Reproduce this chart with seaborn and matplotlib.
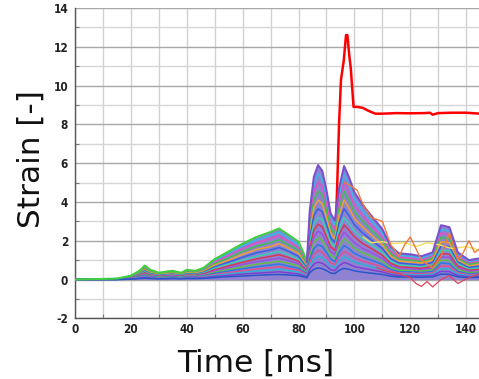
import matplotlib
matplotlib.use("Agg")
import matplotlib.pyplot as plt
import seaborn as sns
import numpy as np
import pandas as pd
from matplotlib.ticker import MultipleLocator

# ---------------- data ----------------
T = [0, 15, 20, 23, 25, 27, 30, 33, 35, 38, 40, 43, 46, 50, 55, 60, 65, 70, 73, 76,
     80, 82, 83, 84, 85.5, 87, 88.5, 90, 91.5, 93, 94.5, 96.3, 98, 100, 103, 106,
     110, 113, 116, 120, 124, 128, 131, 134, 137, 141, 145]

env = [0, 0.05, 0.2, 0.45, 0.72, 0.5, 0.35, 0.42, 0.45, 0.35, 0.5, 0.45, 0.6, 1.05,
       1.45, 1.85, 2.2, 2.45, 2.63, 2.35, 1.95, 1.3, 0.9, 3.5, 5.3, 5.9, 5.6, 4.6, 3.4,
       3.05, 4.7, 5.85, 5.3, 4.5, 3.85, 3.3, 2.6, 1.7, 1.35, 1.3, 1.2, 1.4, 2.8, 2.7,
       1.4, 1.0, 1.1]
c92 = [0, 0.05, 0.18, 0.42, 0.66, 0.46, 0.33, 0.39, 0.41, 0.33, 0.46, 0.42, 0.55, 0.98,
       1.36, 1.73, 2.05, 2.28, 2.44, 2.18, 1.8, 1.2, 0.85, 3.25, 4.9, 5.45, 5.2, 4.25,
       3.15, 2.8, 4.35, 5.45, 4.9, 4.15, 3.55, 3.05, 2.4, 1.58, 1.25, 1.2, 1.1, 1.3,
       2.6, 2.5, 1.3, 0.92, 1.02]
c85 = [0, 0.04, 0.15, 0.38, 0.6, 0.42, 0.3, 0.35, 0.38, 0.3, 0.42, 0.38, 0.5, 0.9,
       1.25, 1.6, 1.9, 2.1, 2.25, 2.0, 1.65, 1.1, 0.8, 3.0, 4.5, 5.0, 4.8, 3.9, 2.9,
       2.6, 4.0, 5.0, 4.5, 3.8, 3.3, 2.8, 2.2, 1.45, 1.15, 1.1, 1.0, 1.2, 2.4, 2.3,
       1.2, 0.85, 0.95]
c78 = [0, 0.03, 0.14, 0.34, 0.55, 0.39, 0.27, 0.33, 0.35, 0.28, 0.39, 0.35, 0.46, 0.82,
       1.12, 1.45, 1.72, 1.9, 2.05, 1.82, 1.5, 1.0, 0.72, 2.7, 4.1, 4.55, 4.35, 3.55,
       2.65, 2.35, 3.65, 4.55, 4.1, 3.5, 3.0, 2.55, 2.0, 1.32, 1.05, 1.0, 0.92, 1.1,
       2.18, 2.1, 1.1, 0.78, 0.88]
c70 = [0, 0.03, 0.12, 0.3, 0.5, 0.35, 0.25, 0.3, 0.32, 0.25, 0.35, 0.32, 0.42, 0.74,
       1.0, 1.3, 1.55, 1.7, 1.85, 1.65, 1.35, 0.9, 0.65, 2.4, 3.7, 4.1, 3.9, 3.2, 2.4,
       2.1, 3.3, 4.1, 3.7, 3.15, 2.7, 2.3, 1.8, 1.2, 0.95, 0.9, 0.85, 1.0, 1.95, 1.9,
       1.0, 0.7, 0.8]
c62 = [0, 0.02, 0.11, 0.28, 0.45, 0.31, 0.22, 0.26, 0.28, 0.22, 0.31, 0.28, 0.37, 0.66,
       0.9, 1.15, 1.38, 1.52, 1.65, 1.48, 1.2, 0.8, 0.58, 2.15, 3.3, 3.65, 3.5, 2.85,
       2.15, 1.9, 2.95, 3.65, 3.3, 2.82, 2.4, 2.05, 1.6, 1.08, 0.85, 0.8, 0.75, 0.88,
       1.72, 1.7, 0.9, 0.62, 0.7]
c55 = [0, 0.02, 0.1, 0.25, 0.4, 0.28, 0.2, 0.23, 0.25, 0.2, 0.28, 0.25, 0.33, 0.58,
       0.8, 1.0, 1.2, 1.35, 1.45, 1.3, 1.05, 0.7, 0.5, 1.9, 2.9, 3.2, 3.1, 2.5, 1.9,
       1.7, 2.6, 3.2, 2.9, 2.5, 2.1, 1.8, 1.4, 0.95, 0.75, 0.7, 0.65, 0.75, 1.5, 1.5,
       0.8, 0.55, 0.6]
c48 = [0, 0.02, 0.09, 0.22, 0.35, 0.24, 0.17, 0.2, 0.22, 0.17, 0.24, 0.22, 0.29, 0.51,
       0.7, 0.89, 1.06, 1.19, 1.28, 1.15, 0.94, 0.62, 0.44, 1.68, 2.55, 2.85, 2.72, 2.2,
       1.68, 1.5, 2.3, 2.82, 2.55, 2.2, 1.85, 1.6, 1.25, 0.83, 0.66, 0.62, 0.58, 0.68,
       1.32, 1.32, 0.7, 0.48, 0.53]
c42 = [0, 0.02, 0.08, 0.19, 0.3, 0.21, 0.15, 0.18, 0.19, 0.15, 0.21, 0.19, 0.25, 0.44,
       0.6, 0.78, 0.92, 1.03, 1.1, 1.0, 0.82, 0.55, 0.38, 1.45, 2.2, 2.5, 2.35, 1.9,
       1.45, 1.3, 2.0, 2.45, 2.2, 1.9, 1.6, 1.4, 1.1, 0.72, 0.57, 0.55, 0.5, 0.6, 1.15,
       1.15, 0.6, 0.42, 0.46]
c36 = [0, 0.01, 0.07, 0.16, 0.26, 0.18, 0.12, 0.15, 0.16, 0.12, 0.18, 0.16, 0.21, 0.38,
       0.52, 0.66, 0.79, 0.88, 0.95, 0.85, 0.7, 0.47, 0.33, 1.25, 1.9, 2.15, 2.02, 1.65,
       1.25, 1.1, 1.7, 2.1, 1.9, 1.62, 1.37, 1.2, 0.94, 0.62, 0.48, 0.47, 0.43, 0.51,
       1.0, 0.98, 0.51, 0.36, 0.4]
c30 = [0, 0.01, 0.06, 0.14, 0.22, 0.15, 0.1, 0.12, 0.14, 0.1, 0.15, 0.14, 0.18, 0.32,
       0.44, 0.55, 0.66, 0.74, 0.8, 0.7, 0.58, 0.4, 0.28, 1.05, 1.6, 1.8, 1.7, 1.4,
       1.05, 0.92, 1.4, 1.75, 1.6, 1.35, 1.15, 1.0, 0.78, 0.52, 0.4, 0.4, 0.36, 0.42,
       0.85, 0.82, 0.42, 0.3, 0.33]
c25 = [0, 0.01, 0.05, 0.11, 0.18, 0.12, 0.08, 0.1, 0.11, 0.08, 0.12, 0.11, 0.15, 0.26,
       0.36, 0.46, 0.55, 0.61, 0.66, 0.58, 0.48, 0.33, 0.23, 0.88, 1.32, 1.5, 1.41,
       1.16, 0.86, 0.77, 1.17, 1.46, 1.33, 1.12, 0.96, 0.83, 0.65, 0.43, 0.33, 0.33,
       0.3, 0.35, 0.7, 0.68, 0.35, 0.25, 0.27]
c20 = [0, 0.01, 0.04, 0.09, 0.15, 0.1, 0.07, 0.08, 0.09, 0.07, 0.1, 0.09, 0.12, 0.21,
       0.29, 0.37, 0.44, 0.49, 0.53, 0.47, 0.39, 0.26, 0.18, 0.7, 1.05, 1.2, 1.12, 0.92,
       0.68, 0.62, 0.95, 1.17, 1.06, 0.9, 0.77, 0.66, 0.52, 0.34, 0.27, 0.26, 0.24,
       0.28, 0.56, 0.54, 0.28, 0.2, 0.22]
c15 = [0, 0.01, 0.03, 0.07, 0.11, 0.08, 0.05, 0.06, 0.07, 0.05, 0.08, 0.07, 0.09, 0.16,
       0.22, 0.28, 0.33, 0.37, 0.4, 0.35, 0.29, 0.2, 0.14, 0.52, 0.79, 0.9, 0.84, 0.69,
       0.51, 0.46, 0.71, 0.88, 0.8, 0.67, 0.58, 0.5, 0.39, 0.26, 0.2, 0.2, 0.18, 0.21,
       0.42, 0.41, 0.21, 0.15, 0.16]
c10 = [0, 0, 0.02, 0.05, 0.07, 0.05, 0.04, 0.04, 0.05, 0.04, 0.05, 0.05, 0.06, 0.1,
       0.15, 0.18, 0.22, 0.25, 0.26, 0.24, 0.2, 0.13, 0.09, 0.35, 0.53, 0.6, 0.56, 0.46,
       0.34, 0.31, 0.47, 0.58, 0.53, 0.45, 0.38, 0.33, 0.26, 0.17, 0.13, 0.13, 0.12,
       0.14, 0.28, 0.27, 0.14, 0.1, 0.11]

# outlier traces on the right
orange_t = [96.3, 98, 99.5, 101, 103, 106, 108, 110, 113, 116, 118, 120, 122, 124,
            128, 131, 134, 137, 139, 141, 143, 145]
orange_y = [5.0, 4.9, 4.75, 4.6, 3.9, 3.2, 3.1, 3.0, 1.8, 1.2, 1.8, 2.2, 1.6, 1.0,
            0.6, 1.2, 2.4, 1.0, 1.4, 2.0, 1.4, 1.6]
yellow_t = [103, 106, 110, 114, 118, 122, 126, 130, 135, 140, 145]
yellow_y = [2.2, 1.9, 1.95, 1.85, 1.9, 1.7, 1.9, 1.8, 1.6, 1.7, 1.5]
redlow_t = [108, 112, 116, 120, 122, 124, 126, 128, 131, 134, 137, 141, 145]
redlow_y = [0.6, 0.4, 0.3, 0.1, -0.2, -0.35, -0.1, -0.38, 0.0, 0.2, -0.2, 0.1, 0.3]

# red (highlighted) curve
red_t = [93.2, 93.9, 94.5, 95.2, 96.2, 97.0, 97.5, 98.2, 98.7, 99.7, 101, 103, 105,
         107.5, 110, 115, 120, 125, 127, 128, 130, 135, 140, 145]
red_y = [2.0, 5.1, 8.0, 10.3, 11.3, 12.6, 12.6, 11.5, 10.9, 8.9, 8.9, 8.85, 8.7,
         8.55, 8.55, 8.58, 8.57, 8.58, 8.6, 8.5, 8.58, 8.6, 8.6, 8.55]

xticks = [0, 20, 40, 60, 80, 100, 120, 140]
yticks = [-2, 0, 2, 4, 6, 8, 10, 12, 14]

# ---------------- drawing ----------------
sns.set_theme(style="white")
plt.rcParams['font.family'] = ['DejaVu Sans']
plt.rcParams['axes.unicode_minus'] = False

fig = plt.figure(figsize=(4.79, 3.79), dpi=100)
ax = fig.add_axes([0.1566, 0.160, 0.8434, 0.819])

# red curve underneath the cloud
sns.lineplot(x=red_t, y=red_y, ax=ax, color="#ff0000", lw=1.8, sort=False,
             estimator=None, zorder=2)

# base fill of the cloud of traces
ax.fill_between(T, 0, env, color="#8f82d2", lw=0, zorder=3)

curves = [c92, c85, c78, c70, c62, c55, c48, c42, c36, c30, c25, c20, c15, c10]
colors = ["#35b9e6", "#e052c2", "#3fbf4f", "#f0a030", "#3563e0", "#38d0b0",
          "#d8384f", "#9a50e0", "#60c040", "#2a7ae0", "#e05090", "#30b0d0",
          "#7f3fd0", "#2a56c8"]
for c, col in zip(curves, colors):
    sns.lineplot(x=T, y=c, ax=ax, color=col, lw=1.1, sort=False, estimator=None,
                 zorder=4)

df = pd.DataFrame({"t": T, "v": env})
sns.lineplot(data=df[df.t <= 83], x="t", y="v", ax=ax, color="#3fcf3f", lw=1.5,
             estimator=None, sort=False, zorder=5)
sns.lineplot(data=df[df.t >= 83], x="t", y="v", ax=ax, color="#7a50cc", lw=1.5,
             estimator=None, sort=False, zorder=5)

sns.lineplot(x=orange_t, y=orange_y, ax=ax, color="#f07a3a", lw=1.0, sort=False,
             estimator=None, zorder=5)
sns.lineplot(x=yellow_t, y=yellow_y, ax=ax, color="#f0e060", lw=1.0, sort=False,
             estimator=None, zorder=4)
sns.lineplot(x=redlow_t, y=redlow_y, ax=ax, color="#e0405a", lw=0.9, sort=False,
             estimator=None, zorder=4)

# axes styling
ax.set_xlim(0, 144.6)
ax.set_ylim(-2, 14)
ax.set_xticks(xticks)
ax.set_yticks(yticks)
ax.xaxis.set_minor_locator(MultipleLocator(10))
ax.yaxis.set_minor_locator(MultipleLocator(1))
ax.grid(which="major", axis="y", color="#a8a8a8", lw=1.0, zorder=0)
ax.grid(which="minor", axis="y", color="#d6d6d6", lw=1.0, zorder=0)
ax.grid(which="both", axis="x", color="#d2d2d2", lw=1.0, zorder=0)
ax.set_axisbelow(True)
for s in ["top", "right"]:
    ax.spines[s].set_visible(False)
for s in ["left", "bottom"]:
    ax.spines[s].set_color("#555555")
    ax.spines[s].set_linewidth(1.0)

ax.tick_params(axis="y", which="major", direction="out", length=4, width=0.8,
               color="#555555", pad=1)
ax.tick_params(axis="y", which="minor", direction="in", length=3, width=0.8,
               color="#777777", left=True)
ax.tick_params(axis="x", which="major", direction="in", length=4, width=0.8,
               color="#555555", pad=3)
ax.tick_params(axis="x", which="minor", direction="in", length=3, width=0.8,
               color="#777777", bottom=True)
for lab in ax.get_xticklabels() + ax.get_yticklabels():
    lab.set_fontfamily(["Liberation Sans Narrow", "DejaVu Sans"])
    lab.set_fontstretch("condensed")
    lab.set_fontweight("bold")
    lab.set_fontsize(8.5)
    lab.set_color("#222222")

ax.set_xlabel("")
ax.set_ylabel("")
fig.text(0.534, 0.042, "Time [ms]", ha="center", va="center", fontsize=22.5,
         color="#111111")
fig.text(0.066, 0.58, "Strain [-]", ha="center", va="center", rotation=90,
         fontsize=22.5, color="#111111")

fig.savefig("out.png", dpi=100)
